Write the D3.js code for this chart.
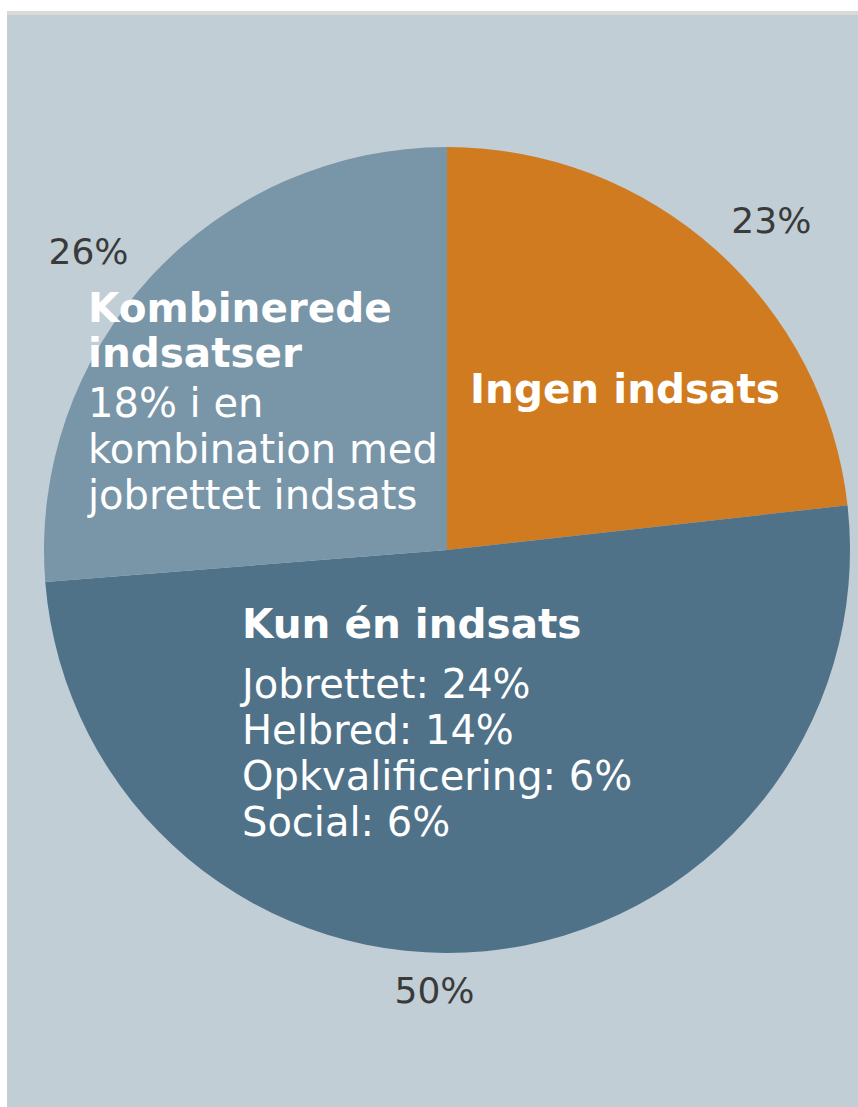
<!DOCTYPE html>
<html>
<head>
<meta charset="utf-8">
<script src="https://cdn.jsdelivr.net/npm/d3@7"></script>
<style>
  body { margin: 0; background: #ffffff; }
  svg { display: block; }
  text { font-family: "DejaVu Sans", Verdana, sans-serif; }
</style>
</head>
<body>
<svg></svg>
<script>
// Chart data
const categories = ["Ingen indsats", "Kun én indsats", "Kombinerede indsatser"];
const shares = [23, 50, 26];
const pctLabels = ["23%", "50%", "26%"];
const colors = ["#d07b20", "#4f7289", "#7995a8"];

// Lines shown inside each slice
const headingLines = [["Ingen indsats"], ["Kun én indsats"], ["Kombinerede", "indsatser"]];
const detailLines = [
  [],
  ["Jobrettet: 24%", "Helbred: 14%", "Opkvalificering: 6%", "Social: 6%"],
  ["18% i en", "kombination med", "jobrettet indsats"]
];

const width = 858;
const height = 1107;

const svg = d3.select("svg")
  .attr("width", width)
  .attr("height", height);

// Panel background
svg.append("rect")
  .attr("x", 7).attr("y", 11)
  .attr("width", width - 7).attr("height", height - 11)
  .attr("fill", "#c1ced6");

svg.append("rect")
  .attr("x", 7).attr("y", 11)
  .attr("width", width - 7).attr("height", 4)
  .attr("fill", "#d9d9d9");

const cx = 447, cy = 550, radius = 403;

const chart = svg.append("g")
  .attr("transform", `translate(${cx}, ${cy})`);

const pie = d3.pie().sort(null).value(d => d);
const arcs = pie(shares);

const arc = d3.arc().innerRadius(0).outerRadius(radius);

chart.selectAll(".slice")
  .data(arcs)
  .enter()
  .append("path")
  .attr("class", "slice")
  .attr("d", arc)
  .attr("fill", (d, i) => colors[i]);

// Percent labels outside the pie
const labelArc = d3.arc().innerRadius(458).outerRadius(458);
const labelNudge = [[19, 12], [-56, -15], [-22, 12]];

chart.selectAll(".pct")
  .data(arcs)
  .enter()
  .append("text")
  .attr("class", "pct")
  .attr("x", (d, i) => labelArc.centroid(d)[0] + labelNudge[i][0])
  .attr("y", (d, i) => labelArc.centroid(d)[1] + labelNudge[i][1])
  .attr("text-anchor", "middle")
  .attr("dominant-baseline", "central")
  .attr("font-size", 36)
  .attr("fill", "#3a3a3a")
  .text((d, i) => pctLabels[i]);

// Text blocks inside the slices: first baseline, gap before detail lines
const blockPos = [[470, 403, 0], [242, 638, 15], [88, 322, 5]];

blockPos.forEach((p, i) => {
  const g = svg.append("g");
  let y = p[1];
  headingLines[i].forEach(line => {
    g.append("text")
      .attr("x", p[0]).attr("y", y)
      .attr("font-size", 40.5)
      .attr("font-weight", "bold")
      .attr("fill", "#ffffff")
      .text(line);
    y += 45;
  });
  y += p[2];
  detailLines[i].forEach(line => {
    g.append("text")
      .attr("x", p[0]).attr("y", y)
      .attr("font-size", 40)
      .attr("fill", "#ffffff")
      .text(line);
    y += 46;
  });
});
</script>
</body>
</html>
